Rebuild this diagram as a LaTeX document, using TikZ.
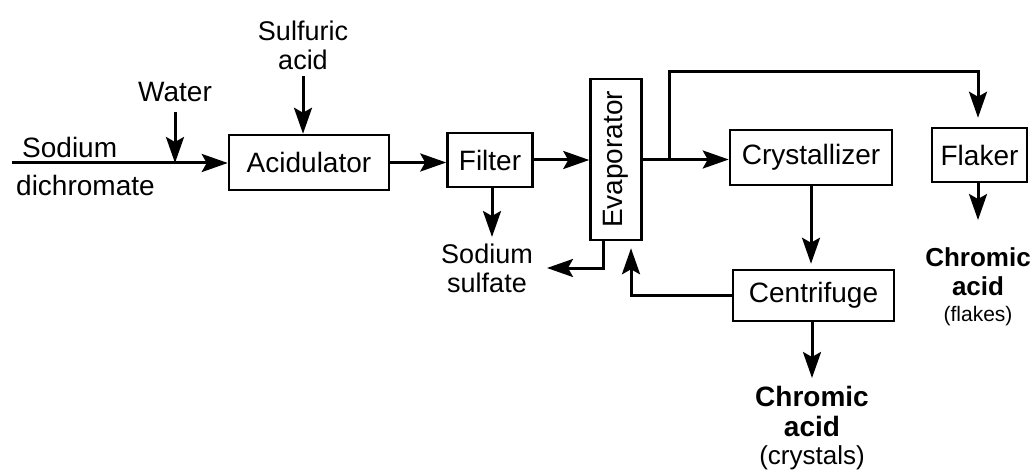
\documentclass[tikz,border=0pt]{standalone}
\usepackage{fontspec}
\setmainfont{Liberation Sans}
\usetikzlibrary{arrows.meta,calc}
\begin{document}
\begin{tikzpicture}[x=1pt,y=-1pt,
  box/.style={draw, line width=2.5pt, inner sep=0pt, font=\fontsize{28}{30}\selectfont},
  lab/.style={font=\fontsize{28}{30}\selectfont, inner sep=0pt, anchor=base},
  slab/.style={lab, font=\fontsize{27}{29}\selectfont},
  blab/.style={lab, font=\fontsize{28}{30}\selectfont\bfseries},
  arr/.style={line width=3pt, -{Stealth[length=26pt,width=18pt,inset=5pt]}},
  ln/.style={line width=3pt}]
\useasboundingbox (0,0) rectangle (1032,473);

% boxes
\node[box, minimum width=160pt, minimum height=55pt] (acid) at (309,162.5) {Acidulator};
\node[box, minimum width=85pt, minimum height=54pt] (filter) at (490,160) {Filter};
\node[box, minimum width=51pt, minimum height=161pt] (evap) at (616,159.5) {\rotatebox{90}{Evaporator}};
\node[box, minimum width=162pt, minimum height=55pt] (cryst) at (811,157.5) {Crystallizer};
\node[box, minimum width=161pt, minimum height=51pt] (centr) at (813.5,295.5) {Centrifuge};
\node[box, minimum width=95pt, minimum height=54pt] (flaker) at (979.5,155) {Flaker};

% labels
\node[lab, anchor=base west] (sod1) at (22,158) {Sodium};
\node[lab, anchor=base west] (sod2) at (16,195) {dichromate};
\node[lab] (water) at (175,102) {Water};
\node[slab] (sulf1) at (303,41) {Sulfuric};
\node[slab] (sulf2) at (303,70) {acid};
\node[slab] (ss1) at (487,263) {Sodium};
\node[slab] (ss2) at (487,292) {sulfate};
\node[blab] (cr1) at (812,406) {Chromic};
\node[blab] (cr2) at (812,436) {acid};
\node[lab, font=\fontsize{26}{28}\selectfont] (cr3) at (812,464) {(crystals)};
\node[blab, font=\fontsize{26}{28}\selectfont\bfseries] (fl1) at (978,266) {Chromic};
\node[blab, font=\fontsize{26}{28}\selectfont\bfseries] (fl2) at (978,295) {acid};
\node[lab, font=\fontsize{21}{23}\selectfont] (fl3) at (978,321) {(flakes)};

% connectors
\coordinate (src) at (12,163);
\draw[arr] (src) -- (src -| acid.west);
\coordinate (wtop) at (175,112);
\draw[arr] (wtop) -- (wtop |- src);
\coordinate (stop) at (303,76);
\draw[arr] (stop) -- (stop |- acid.north);
\draw[arr] (acid.east) -- (acid.east -| filter.west);
\draw[arr] (filter.east) -- (filter.east -| evap.west);
\coordinate (fd) at (492,237);
\draw[arr] (fd |- filter.south) -- (fd);
\draw[arr] (evap.east) -- (evap.east -| cryst.west);
\coordinate (br) at (669,159.5);
\coordinate (tr) at (978,72);
\draw[arr, shorten >=9pt] (br) |- (tr) -- (tr |- flaker.north);
\coordinate (ssa) at (547,268);
\draw[arr] ([xshift=-13pt]evap.south) |- (ssa);
\draw[arr, shorten >=7pt] (centr.west) -| ([xshift=15pt]evap.south);
\draw[arr, shorten >=5pt] (cryst.south) -- (cryst.south |- centr.north);
\coordinate (cd) at (812,378);
\draw[arr] (cd |- centr.south) -- (cd);
\coordinate (fld) at (978,220);
\draw[arr] (fld |- flaker.south) -- (fld);
\end{tikzpicture}
\end{document}
